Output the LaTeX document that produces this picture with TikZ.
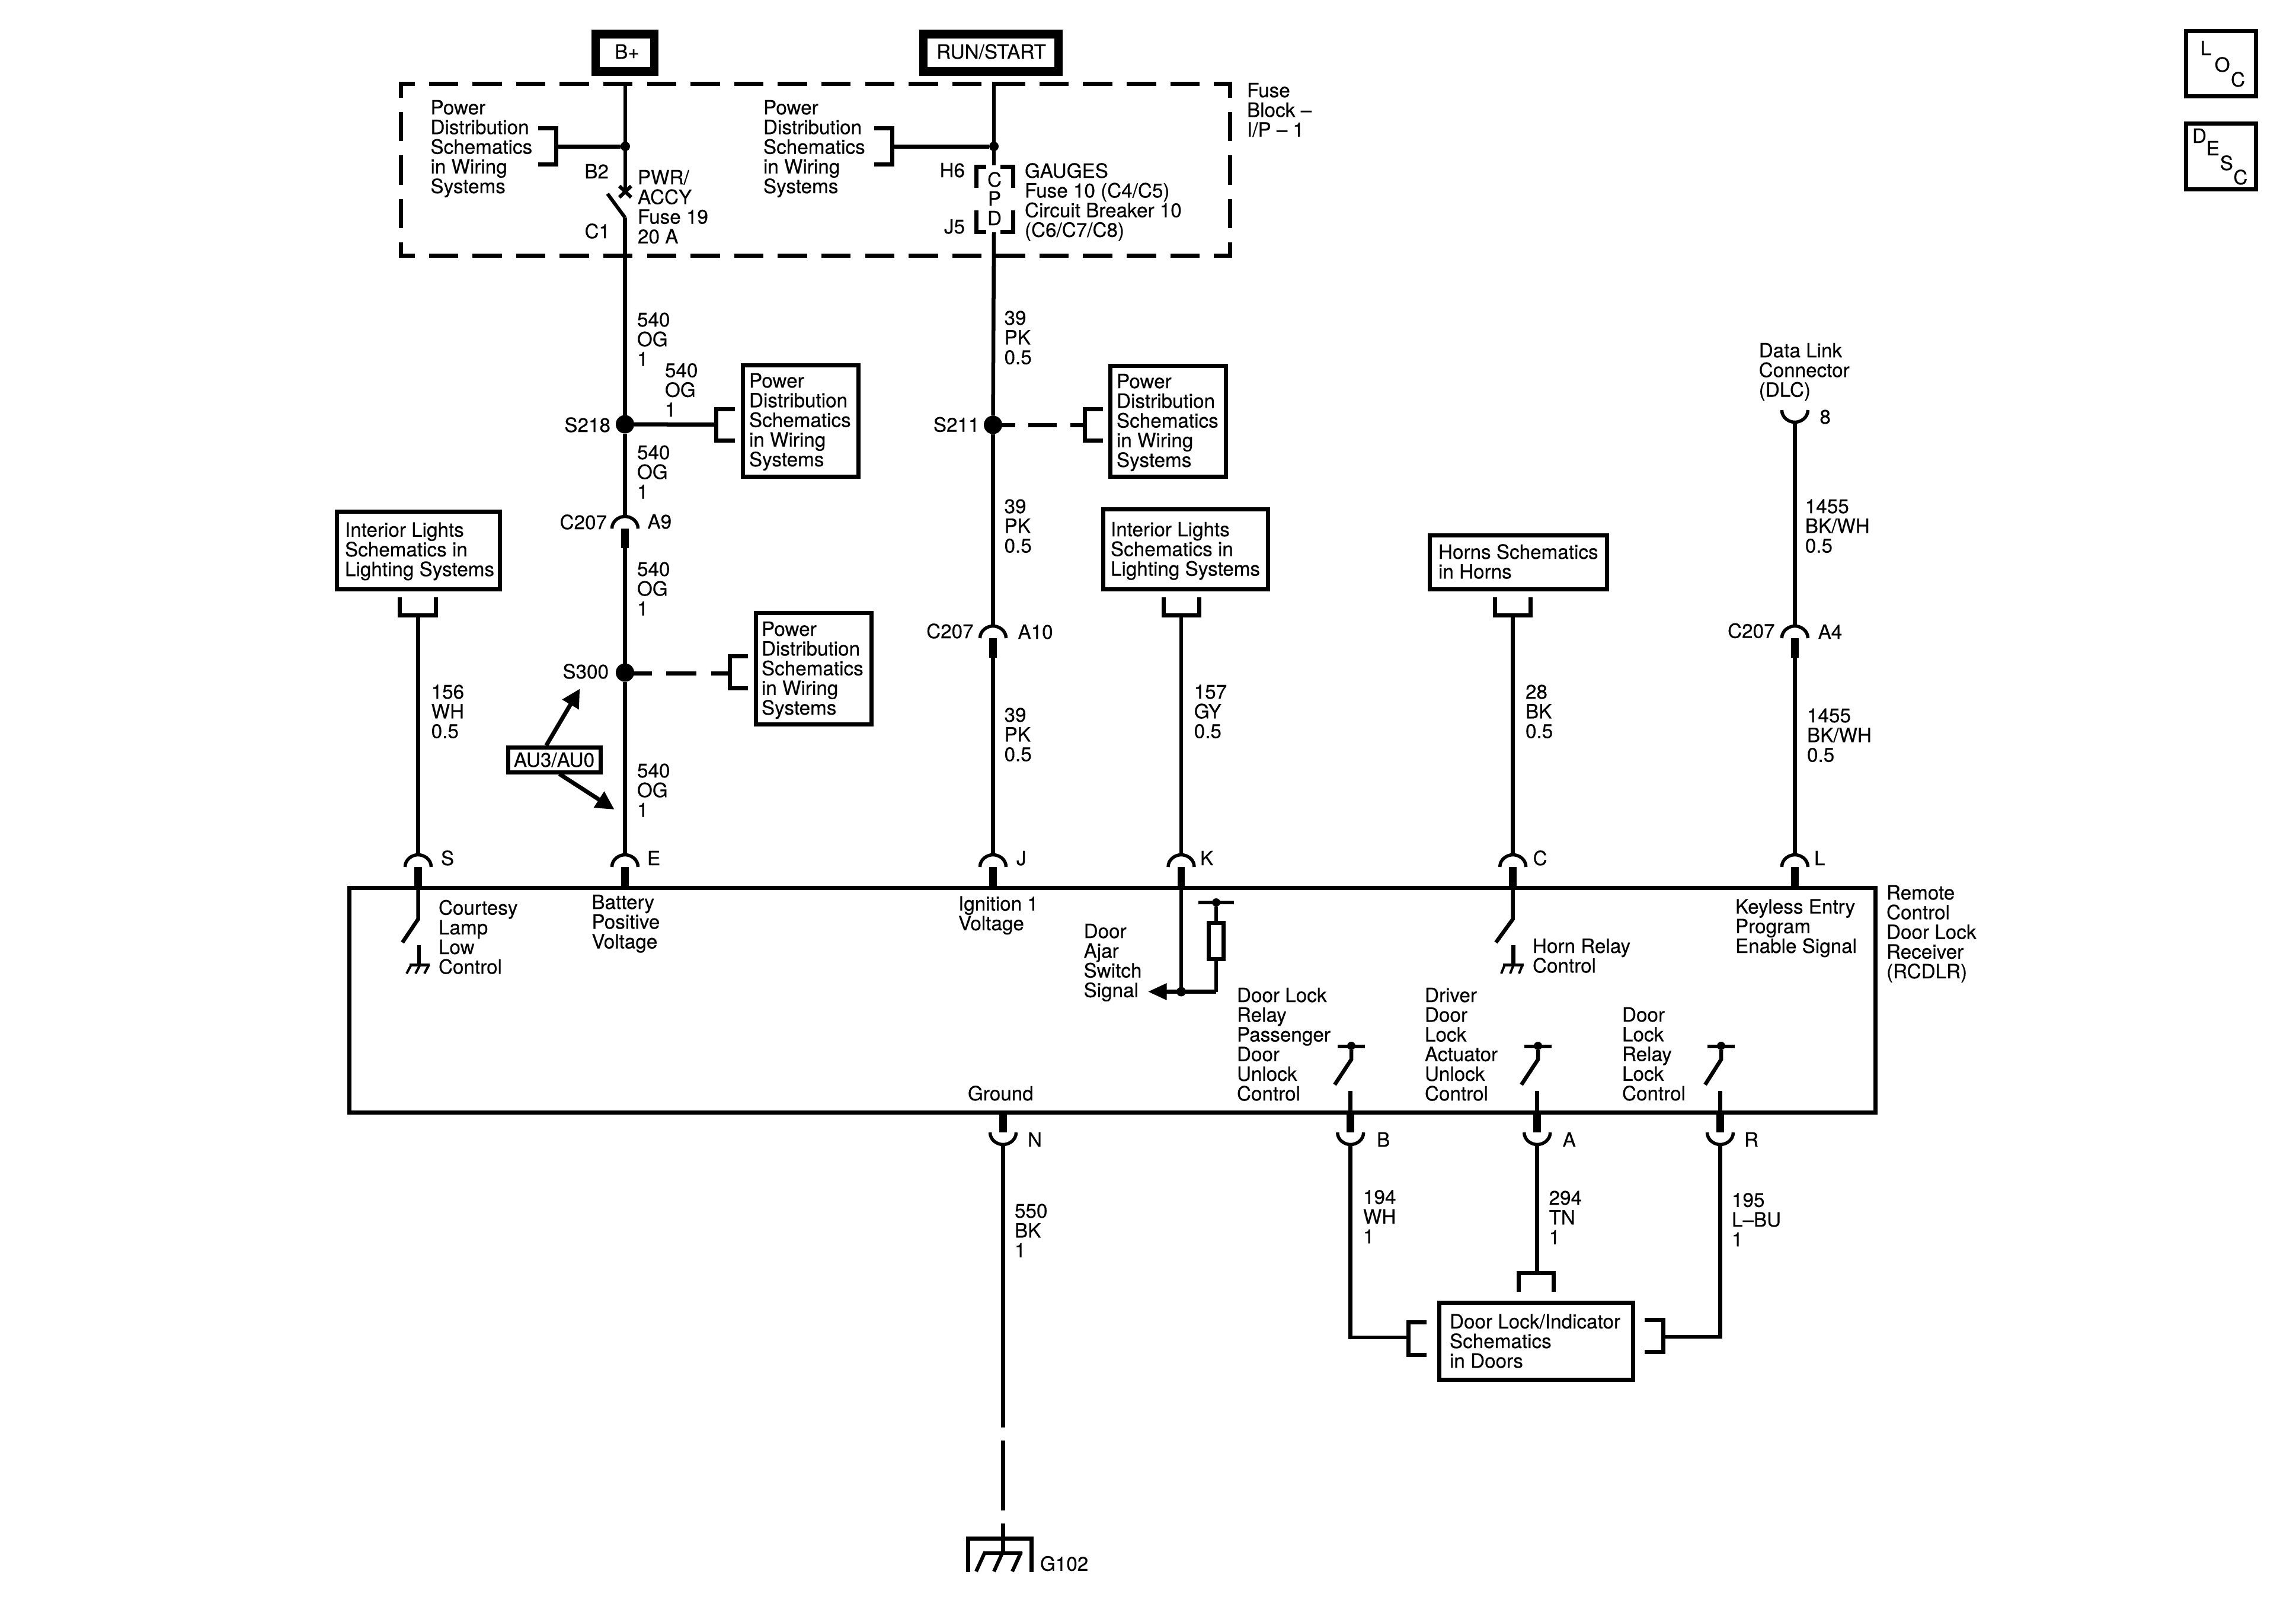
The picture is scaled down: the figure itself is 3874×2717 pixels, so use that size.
\documentclass[tikz,border=0pt]{standalone}
\usepackage{fontspec}
\setmainfont[FakeBold=0.3]{TeX Gyre Heros}
\usetikzlibrary{arrows.meta}
\newcommand\lblfont{\fontsize{9.45pt}{9.45pt}\selectfont\lineskiplimit=-10pt\relax}
\tikzset{
  txt/.style={inner sep=0pt,outer sep=0pt,align=left,font=\lblfont},
  wire/.style={line width=0.065cm,line cap=butt},
  stub/.style={line width=0.127cm},
  arch/.style={line width=0.055cm},
  brk/.style={line width=0.07cm,miter limit=10},
  fb/.style={line width=0.07cm,dash pattern=on 0.495cm off 0.2405cm,dash phase=0.225cm},
  bx/.style={draw,line width=0.07cm,inner sep=0pt,outer sep=0pt},
  pwrbx/.style={draw,line width=0.145cm,inner sep=0pt,outer sep=0pt},
  bigdot/.style={circle,fill=black,inner sep=0pt,outer sep=0pt,minimum size=0.31cm},
  smalldot/.style={circle,fill=black,inner sep=0pt,outer sep=0pt,minimum size=0.16cm},
  archup/.pic={\draw[arch] (-22,0) .. controls (-22,-13) and (-10,-20.5) .. (0,-20.5) .. controls (10,-20.5) and (22,-13) .. (22,0);},
  archdn/.pic={\draw[arch] (-22,0) .. controls (-22,13) and (-10,20.5) .. (0,20.5) .. controls (10,20.5) and (22,13) .. (22,0);},
  arrowline/.style={line width=0.07cm,-{Triangle[length=0.31cm,width=0.31cm]}},
}
% [anchor]{name}{x}{baseline y}{text}
\newcommand\Txt[5][north west]{\node[txt,anchor=#1] (#2) at (#3,#4-28.1) {\rule{0pt}{8pt}#5};}
% {name}{x1}{y1}{x2}{y2}
\newcommand\Bx[5]{\node[bx,minimum width={0.01cm*(#4-#2)},minimum height={0.01cm*(#5-#3)}] (#1) at ({(#2+#4)/2},{(#3+#5)/2}) {};}
\newcommand\PinUp[4]{\coordinate (#1) at (#2,#3-21); \pic at (#2,#3) {archup}; \draw[stub] (#2,#3) -- (#2,#4);}
\newcommand\PinDn[4]{\coordinate (#1) at (#2,#3+21); \pic at (#2,#3) {archdn}; \draw[stub] (#2,#3) -- (#2,#4);}
\begin{document}
\begin{tikzpicture}[x=0.01cm,y=-0.01cm]
\useasboundingbox (0,0) rectangle (3874,2717);
% ---- power sources
\node[pwrbx,minimum width=0.99cm,minimum height=0.625cm] (bplus) at (1054.5,89) {};
\Txt[north]{bplustxt}{1058}{99}{B+}
\node[pwrbx,minimum width=2.28cm,minimum height=0.625cm] (runstart) at (1672,89) {};
\Txt[north]{runtxt}{1672.5}{99}{RUN/START}
% ---- LOC / DESC
\Bx{loc}{3688.5}{52}{3806.5}{162.5}
\Txt{locL}{3712.7}{93}{L}
\Txt{locO}{3736.7}{121}{O}
\Txt{locC}{3764}{146}{C}
\Bx{desc}{3688.5}{208.5}{3806.5}{319}
\Txt{descD}{3699}{241}{D}
\Txt{descE}{3722.7}{262}{E}
\Txt{descS}{3745.7}{287}{S}
\Txt{descC}{3768.3}{311}{C}
% ---- fuse block dashed outline
\draw[fb] (672.5,141) -- (2078.5,141);
\draw[fb] (672.5,431) -- (2078.5,431);
\draw[fb] (676,137.5) -- (676,434.5);
\draw[fb] (2075,137.5) -- (2075,434.5);
\Txt{fbtxt}{2104}{164}{Fuse\\Block –\\I/P – 1}
% ---- B+ feed inside fuse block
\node[smalldot] (jb) at (1055,247) {};
\node[smalldot] (jr) at (1677,247) {};
\coordinate (bw0) at (1055,138);
\coordinate (rw0) at (1677,138);
\coordinate (fx) at (1055,323);
\draw[wire] (bw0) -- (fx);
\draw[line width=0.06cm] (1045,314) -- (1065,333) (1065,314) -- (1045,333);
\coordinate (swb) at (1054.5,367);
\draw[line width=0.06cm] (1025,327) -- (swb);
\draw[brk] (908,216.5) -- (938,216.5) -- (938,277.5) -- (908,277.5);
\draw[brk] (938,247) -- (jb);
\Txt{pd1}{726.5}{193}{Power\\Distribution\\Schematics\\in Wiring\\Systems}
\draw[brk] (1475,216.5) -- (1505,216.5) -- (1505,277.5) -- (1475,277.5);
\draw[brk] (1505,247) -- (jr);
\Txt{pd2}{1288}{193}{Power\\Distribution\\Schematics\\in Wiring\\Systems}
\Txt[north east]{b2}{1027}{301}{B2}
\Txt[north east]{c1}{1029}{402}{C1}
\Txt{pwr}{1076}{311}{PWR/\\ACCY\\Fuse 19\\20 A}
% ---- CPD
\coordinate (cpdt) at (1677,279);
\coordinate (cpdb) at (1677,392);
\draw[wire] (rw0) -- (cpdt);
\draw[brk] (1664,281) -- (1647,281) -- (1647,317);
\draw[brk] (1688,281) -- (1709,281) -- (1709,317);
\draw[brk] (1664,391) -- (1647,391) -- (1647,355);
\draw[brk] (1688,391) -- (1709,391) -- (1709,355);
\Txt[north]{cpdC}{1678}{315}{C}
\Txt[north]{cpdP}{1678}{347}{P}
\Txt[north]{cpdD}{1678}{380}{D}
\Txt[north east]{h6}{1628}{299}{H6}
\Txt[north east]{j5}{1628}{394}{J5}
\Txt{gauges}{1729}{300}{GAUGES\\Fuse 10 (C4/C5)\\Circuit Breaker 10\\(C6/C7/C8)}
% ---- left feed
\node[bigdot] (s218) at (1054.5,716) {};
\node[bigdot] (s300) at (1054.5,1135) {};
\PinUp{c207a}{1054.5}{892}{925}
\PinUp{pinE}{1054.5}{1463}{1498.5}
\coordinate (a9b) at (1054.5,925);
\draw[wire] (swb) -- (s218);
\draw[wire] (s218) -- (c207a);
\draw[wire] (a9b) -- (s300);
\draw[wire] (s300) -- (pinE);
\Txt{w1}{1075}{551}{540\\OG\\1}
\Txt{w2}{1122}{636.5}{540\\OG\\1}
\Txt{w3}{1075}{775}{540\\OG\\1}
\Txt{w4}{1075}{972}{540\\OG\\1}
\Txt{w5}{1075}{1312}{540\\OG\\1}
\Txt[north east]{s218t}{1030}{729}{S218}
\Txt[north east]{s300t}{1027}{1145}{S300}
\Txt[north east]{c207at}{1024}{893}{C207}
\Txt{a9}{1092.5}{892}{A9}
\Txt{pinEt}{1092}{1460}{E}
% S218 branch
\Bx{pd3}{1253}{616.5}{1448}{804}
\Txt{pd3t}{1264}{654}{Power\\Distribution\\Schematics\\in Wiring\\Systems}
\draw[brk] (1240,690) -- (1208,690) -- (1208,743.5) -- (1240,743.5);
\draw[brk] (s218) -- (1208,716.5);
% S300 branch
\Bx{pd4}{1275.5}{1034.5}{1470}{1222.5}
\Txt{pd4t}{1285}{1073}{Power\\Distribution\\Schematics\\in Wiring\\Systems}
\draw[brk] (1262,1107.5) -- (1231,1107.5) -- (1231,1161.5) -- (1262,1161.5);
\coordinate (d300) at (1054.5,1136);
\draw[line width=0.07cm,dash pattern=on 0.51cm off 0.245cm,dash phase=0.06cm] (d300) -- (1228,1136);
% AU3/AU0
\Bx{au}{857}{1261.5}{1013}{1303}
\Txt[north]{aut}{935}{1294}{AU3/AU0}
\coordinate (au1) at (978.3,1162.3);
\coordinate (au2) at (1036.6,1366);
\draw[arrowline] (921.7,1258) -- (au1);
\draw[arrowline] (943.7,1306) -- (au2);
% ---- right feed (39 PK)
\node[bigdot] (s211) at (1675.5,717) {};
\PinUp{c207b}{1675.5}{1077}{1110}
\PinUp{pinJ}{1675.5}{1463}{1498.5}
\coordinate (a10b) at (1675.5,1110);
\draw[wire] (cpdb) -- (s211);
\draw[wire] (s211) -- (c207b);
\draw[wire] (a10b) -- (pinJ);
\Txt{r1}{1694.6}{548}{39\\PK\\0.5}
\Txt{r2}{1694.6}{866}{39\\PK\\0.5}
\Txt{r3}{1694.6}{1218}{39\\PK\\0.5}
\Txt[north east]{s211t}{1652.5}{728.5}{S211}
\Txt[north east]{c207bt}{1642.6}{1077}{C207}
\Txt{a10}{1717.5}{1078}{A10}
\Txt{pinJt}{1715}{1460}{J}
\Bx{pd5}{1873}{617}{2068.5}{804.5}
\Txt{pd5t}{1884}{655}{Power\\Distribution\\Schematics\\in Wiring\\Systems}
\draw[brk] (1860.7,690) -- (1830,690) -- (1830,743.5) -- (1860.7,743.5);
\coordinate (d211) at (1675.5,717);
\draw[line width=0.07cm,dash pattern=on 0.48cm off 0.225cm,dash phase=0.11cm] (d211) -- (1827,717);
% ---- interior lights S
\Bx{il1}{568.5}{863.5}{843}{994}
\Txt{il1t}{582}{905.7}{Interior Lights\\Schematics in\\Lighting Systems}
\draw[brk] (674.7,1008) -- (674.7,1038.5) -- (735.5,1038.5) -- (735.5,1008);
\coordinate (il1b) at (705.5,1038.5);
\PinUp{pinS}{705.5}{1463}{1498.5}
\draw[wire] (il1b) -- (pinS);
\Txt{w156}{727.7}{1179}{156\\WH\\0.5}
\Txt{pinSt}{744}{1460}{S}
% ---- interior lights K
\Bx{il2}{1861}{859.5}{2139.5}{994}
\Txt{il2t}{1874}{905}{Interior Lights\\Schematics in\\Lighting Systems}
\draw[brk] (1963.5,1008) -- (1963.5,1038.5) -- (2023.5,1038.5) -- (2023.5,1008);
\coordinate (il2b) at (1993,1038.5);
\PinUp{pinK}{1993}{1463}{1498.5}
\draw[wire] (il2b) -- (pinK);
\Txt{w157}{2014.7}{1179}{157\\GY\\0.5}
\Txt{pinKt}{2025}{1460}{K}
% ---- horns C
\Bx{hr}{2412.5}{903.5}{2711.5}{994}
\Txt{hrt}{2427}{943}{Horns Schematics\\in Horns}
\draw[brk] (2522,1008) -- (2522,1038.5) -- (2582,1038.5) -- (2582,1008);
\coordinate (hrb) at (2552.7,1038.5);
\PinUp{pinC}{2552.7}{1463}{1498.5}
\draw[wire] (hrb) -- (pinC);
\Txt{w28}{2574}{1179}{28\\BK\\0.5}
\Txt{pinCt}{2586.6}{1460}{C}
% ---- DLC L
\Txt{dlc}{2967.7}{603}{Data Link\\Connector\\(DLC)}
\pic at (3028.4,692) {archdn};
\coordinate (dlcb) at (3028.4,712);
\Txt{pin8}{3070.4}{715}{8}
\PinUp{c207c}{3028.4}{1077}{1110}
\PinUp{pinL}{3028.4}{1463}{1498.5}
\coordinate (a4b) at (3028.4,1110);
\draw[wire] (dlcb) -- (c207c);
\draw[wire] (a4b) -- (pinL);
\Txt{k1}{3045.8}{866}{1455\\BK/WH\\0.5}
\Txt{k2}{3049}{1219}{1455\\BK/WH\\0.5}
\Txt[north east]{c207ct}{2994.5}{1076.5}{C207}
\Txt{a4}{3067.6}{1078}{A4}
\Txt{pinLt}{3061}{1460}{L}
% ---- RCDLR box
\Bx{rcdlr}{589}{1498.5}{3164.5}{1877.5}
\Txt{rcdlrt}{3183}{1518}{Remote\\Control\\Door Lock\\Receiver\\(RCDLR)}
% inside: S courtesy lamp
\coordinate (ss1) at (705.5,1551);
\draw[wire] (705.5,1498.5) -- (ss1) -- (679,1590.5);
\draw[wire] (707,1595) -- (707,1628);
\draw[line width=0.05cm] (691,1628) -- (725,1628);
\draw[line width=0.04cm] (694,1628) -- (686,1643) (709,1628) -- (701,1643) (724,1628) -- (716,1643);
\Txt{cl}{740}{1543.5}{Courtesy\\Lamp\\Low\\Control}
\Txt{bp}{998.4}{1534}{Battery\\Positive\\Voltage}
\Txt{ig}{1617}{1536.6}{Ignition 1\\Voltage}
% inside: K door ajar
\node[smalldot] (ajar) at (1993,1673.5) {};
\draw[wire] (1993,1498.5) -- (ajar);
\coordinate (rb) at (2052,1673.5);
\draw[brk] (1965,1673.5) -- (rb);
\fill (1937.5,1673.5) -- (1968.7,1659) -- (1968.7,1688) -- cycle;
\Bx{res}{2039.5}{1557.5}{2064.5}{1618}
\node[smalldot,minimum size=0.14cm] (rtop) at (2052,1523) {};
\draw[line width=0.06cm] (2022,1523) -- (2082,1523);
\draw[wire] (rtop) -- (res);
\draw[wire] (res) -- (rb);
\Txt{ajt}{1828.6}{1583}{Door\\Ajar\\Switch\\Signal}
% inside: C horn relay
\coordinate (cs1) at (2552.7,1551);
\draw[wire] (2552.7,1498.5) -- (cs1) -- (2524,1590.5);
\draw[wire] (2553.5,1595) -- (2553.5,1628);
\draw[line width=0.05cm] (2536,1628) -- (2571,1628);
\draw[line width=0.04cm] (2539,1628) -- (2533,1643) (2554,1628) -- (2548,1643) (2569,1628) -- (2563,1643);
\Txt{hrl}{2586}{1608}{Horn Relay\\Control}
\Txt{kp}{2928}{1541.6}{Keyless Entry\\Program\\Enable Signal}
% inside: lower switches
\Txt{dl1}{2087}{1691}{Door Lock\\Relay\\Passenger\\Door\\Unlock\\Control}
\Txt{dl2}{2404}{1691}{Driver\\Door\\Lock\\Actuator\\Unlock\\Control}
\Txt{dl3}{2737}{1724}{Door\\Lock\\Relay\\Lock\\Control}
\Txt{gnd}{1633}{1857}{Ground}
% B switch
\node[smalldot,minimum size=0.14cm] (swB) at (2280,1765) {};
\draw[line width=0.06cm] (2257,1765.5) -- (2303,1765.5);
\draw[wire] (swB) -- (2280,1788) -- (2252,1830.5);
\draw[wire] (2278.7,1841) -- (2278.7,1877.5);
% A switch
\node[smalldot,minimum size=0.14cm] (swA) at (2595,1765) {};
\draw[line width=0.06cm] (2572,1765.5) -- (2618,1765.5);
\draw[wire] (swA) -- (2595,1788) -- (2567,1830.5);
\draw[wire] (2593.7,1841) -- (2593.7,1877.5);
% R switch
\node[smalldot,minimum size=0.14cm] (swR) at (2904,1765) {};
\draw[line width=0.06cm] (2881,1765.5) -- (2927,1765.5);
\draw[wire] (swR) -- (2904,1788) -- (2877,1830.5);
\draw[wire] (2902.5,1841) -- (2902.5,1877.5);
% ---- bottom pins
\PinDn{pinN}{1692.5}{1911}{1877.5}
\PinDn{pinB}{2278.7}{1911}{1877.5}
\PinDn{pinA}{2593.7}{1911}{1877.5}
\PinDn{pinR}{2902.5}{1911}{1877.5}
\Txt{pinNt}{1734}{1935}{N}
\Txt{pinBt}{2323}{1935}{B}
\Txt{pinAt}{2636.6}{1935}{A}
\Txt{pinRt}{2943}{1935}{R}
% ---- door lock box
\Bx{dr}{2428}{2198.5}{2755}{2328}
\Txt{drt}{2446}{2241.7}{Door Lock/Indicator\\Schematics\\in Doors}
\draw[brk] (2407,2231.5) -- (2376,2231.5) -- (2376,2286) -- (2407,2286);
\draw[brk] (2775,2227.5) -- (2806,2227.5) -- (2806,2281.5) -- (2775,2281.5);
\draw[brk] (2562,2180) -- (2562,2148.5) -- (2621,2148.5) -- (2621,2180);
\coordinate (drl) at (2376,2257);
\coordinate (drr) at (2806,2256);
\coordinate (drt0) at (2593.7,2148.5);
\draw[wire,line join=miter] (pinB) -- (2278.7,2257) -- (drl);
\draw[wire] (pinA) -- (drt0);
\draw[wire] (pinR) -- (2902.5,2256) -- (drr);
\Txt{w194}{2300}{2031.7}{194\\WH\\1}
\Txt{w294}{2613.6}{2033}{294\\TN\\1}
\Txt{w195}{2922}{2036.7}{195\\L–BU\\1}
% ---- ground G102
\coordinate (gndt) at (1692.5,2621);
\draw[wire] (pinN) -- (1692.5,2409);
\draw[wire] (1692.5,2431) -- (1692.5,2549);
\draw[wire] (1692.5,2571) -- (gndt);
\draw[brk] (1633.5,2653) -- (1633.5,2596) -- (1740.5,2596) -- (1740.5,2653);
\draw[line width=0.06cm] (1660,2621) -- (1725,2621);
\draw[line width=0.06cm] (1662,2619) -- (1647,2652) (1692,2619) -- (1677,2652) (1723,2619) -- (1708,2652);
\Txt{g102}{1755}{2650.7}{G102}
\Txt{w550}{1712}{2055}{550\\BK\\1}
\end{tikzpicture}
\end{document}
